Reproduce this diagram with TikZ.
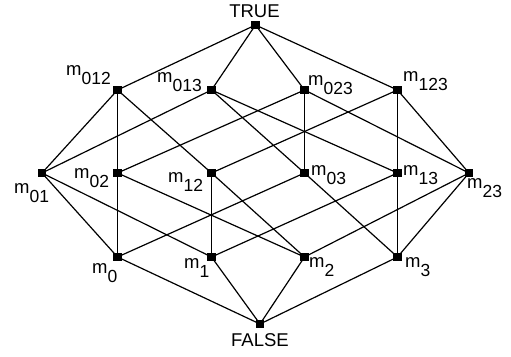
\documentclass[tikz,border=0pt]{standalone}
\usepackage{fontspec}
\setmainfont{Liberation Sans}
\newcommand\mlab[1]{m\raisebox{-9.5pt}{\fontsize{17.5}{18}\selectfont #1}}
\begin{document}
\begin{tikzpicture}[x=1pt,y=-1pt,
  elem/.style={rectangle,fill=black,inner sep=0pt,minimum size=8.5pt},
  lab/.style={inner sep=0pt,anchor=base west,font=\fontsize{18.5}{20}\selectfont},
  capt/.style={inner sep=0pt,anchor=base,font=\fontsize{18.5}{20}\selectfont},
  edge/.style={line width=1.2pt,black}]
\useasboundingbox (0,0) rectangle (511,356);
% lattice elements
\node[elem] (T) at (255.5,25) {};
\node[elem] (m012) at (117.5,90) {};
\node[elem] (m013) at (211.5,90) {};
\node[elem] (m023) at (304.5,90) {};
\node[elem] (m123) at (397.5,90) {};
\node[elem] (m01) at (42,173) {};
\node[elem] (m02) at (117.5,173) {};
\node[elem] (m12) at (211.5,173) {};
\node[elem] (m03) at (304.5,173) {};
\node[elem] (m13) at (397.5,173) {};
\node[elem] (m23) at (469,173) {};
\node[elem] (m0) at (117.5,257) {};
\node[elem] (m1) at (211.5,257) {};
\node[elem] (m2) at (304.5,257) {};
\node[elem] (m3) at (397.5,257) {};
\node[elem] (F) at (260,324) {};
% covering relations
\foreach \a/\b in {T/m012,T/m013,T/m023,T/m123,
  m012/m01,m012/m02,m012/m12,
  m013/m01,m013/m03,m013/m13,
  m023/m02,m023/m03,m023/m23,
  m123/m12,m123/m13,m123/m23,
  m01/m0,m01/m1,m02/m0,m02/m2,m03/m0,m03/m3,
  m12/m1,m12/m2,m13/m1,m13/m3,m23/m2,m23/m3,
  m0/F,m1/F,m2/F,m3/F}
  \draw[edge] (\a.center) -- (\b.center);
% labels
\node[capt] (lT) at (254.5,17) {TRUE};
\node[capt] (lF) at (260,346) {FALSE};
\node[lab] (l012) at (66,75) {\mlab{012}};
\node[lab] (l013) at (157,82) {\mlab{013}};
\node[lab] (l023) at (308,85) {\mlab{023}};
\node[lab] (l123) at (403,81) {\mlab{123}};
\node[lab] (l01) at (14,193) {\mlab{01}};
\node[lab] (l02) at (74,178) {\mlab{02}};
\node[lab] (l12) at (168,182) {\mlab{12}};
\node[lab] (l03) at (311,175) {\mlab{03}};
\node[lab] (l13) at (403,175) {\mlab{13}};
\node[lab] (l23) at (467,188) {\mlab{23}};
\node[lab] (l0) at (92,273) {\mlab{0}};
\node[lab] (l1) at (184,268) {\mlab{1}};
\node[lab] (l2) at (309,267) {\mlab{2}};
\node[lab] (l3) at (405,267) {\mlab{3}};
\end{tikzpicture}
\end{document}
